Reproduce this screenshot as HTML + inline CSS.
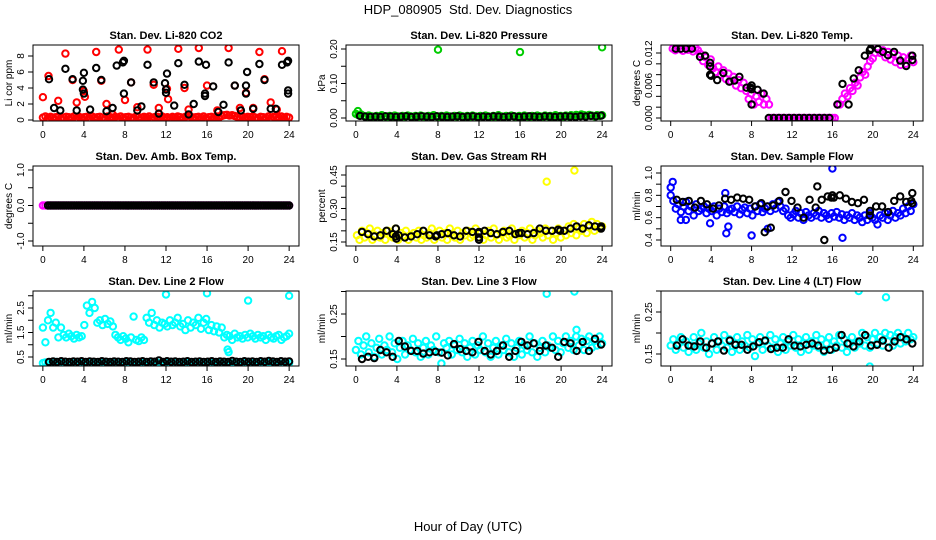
<!DOCTYPE html>
<html><head><meta charset="utf-8"><style>
html,body{margin:0;padding:0;background:#fff;}
svg{display:block;font-family:"Liberation Sans",sans-serif;}
</style></head><body>
<svg id="chart" width="936" height="540" viewBox="0 0 936 540" xmlns="http://www.w3.org/2000/svg">
<text x="468" y="14" text-anchor="middle" font-size="13" xml:space="preserve">HDP_080905  Std. Dev. Diagnostics</text>
<text x="468" y="531" text-anchor="middle" font-size="13">Hour of Day (UTC)</text>
</svg>
<script>
// ---------- DATA ----------
const xTicks = [0,4,8,12,16,20,24];
// Panel 1: CO2 (Li cor ppm)
const co2RedDense = [0.3,0.45,0.25,0.4,0.3,0.35,0.45,0.25,0.3,0.4,0.35,0.3,0.45,0.25,0.4,0.3,0.35,0.4,0.25,0.45,0.3,0.35,0.4,0.3,
0.25,0.45,0.35,0.3,0.4,0.25,0.45,0.3,0.35,0.4,0.3,0.25,0.45,0.35,0.3,0.4,0.3,0.45,0.25,0.35,0.4,0.3,0.45,0.3,
0.35,0.25,0.4,0.3,0.45,0.35,0.3,0.4,0.25,0.45,0.3,0.35,0.4,0.3,0.45,0.25,0.35,0.4,0.3,0.45,0.35,0.5,0.6,0.65,
0.55,0.6,0.5,0.4,0.35,0.45,0.3,0.4,0.35,0.45,0.3,0.25,0.4,0.35,0.3,0.45,0.25,0.4,0.35,0.3,0.45,0.3,0.4,0.3];
const co2RedHours = [0,0.55,1.5,2.2,2.9,3.3,4.0,4.1,5.2,5.7,6.2,6.8,7.4,8.0,8.6,9.2,10.2,10.8,11.3,12.2,12.1,13.2,13.8,14.2,15.2,16.0,17.0,18.1,18.7,19.2,19.8,20.5,21.1,21.6,22.2,22.8,23.3];
const co2RedValues = [2.85,5.5,2.4,8.3,5.0,2.2,3.6,2.9,8.5,4.9,2.0,0.7,8.8,2.5,4.7,1.6,8.8,4.4,1.5,2.6,3.9,8.9,4.0,1.3,9.0,4.3,1.2,9.0,4.3,1.5,3.4,1.5,8.5,5.1,2.2,1.3,8.6];
const co2BlackHours = [0.6,1.1,1.7,2.2,2.9,3.3,3.9,3.9,4.0,4.0,4.6,5.2,5.7,6.2,6.8,7.2,7.8,7.9,7.9,8.6,9.2,9.6,10.2,10.8,11.3,11.9,12.0,12.0,12.1,12.8,13.2,13.8,14.2,14.7,15.2,15.8,15.8,15.9,16.6,17.1,17.6,18.1,18.7,19.3,19.8,19.8,19.9,20.5,21.1,21.6,22.2,22.7,23.3,23.8,23.9,23.9,23.9];
const co2BlackValues = [5.1,1.5,1.2,6.4,5.1,1.2,4.9,3.8,3.3,5.9,1.3,6.5,5.0,1.1,1.5,6.8,7.2,7.4,3.3,4.7,1.2,1.7,6.9,4.7,0.8,4.6,3.8,3.4,5.8,1.8,7.1,4.4,0.7,2.0,7.3,3.3,3.0,6.9,4.2,1.0,1.9,7.2,4.3,1.2,4.3,3.3,6.0,1.4,7.0,5.0,1.4,1.4,6.9,7.2,7.4,3.7,3.3];
// Panel 2: pressure (kPa)
const pressGreenDense = [0.012,0.008,0.01,0.006,0.004,0.007,0.005,0.003,0.006,0.004,0.008,0.005,0.003,0.006,0.004,0.007,0.005,0.003,0.006,0.004,0.007,0.005,0.003,0.006,
0.004,0.007,0.005,0.003,0.006,0.004,0.008,0.005,0.003,0.006,0.004,0.007,0.005,0.003,0.006,0.004,0.007,0.005,0.003,0.006,0.004,0.007,0.005,0.003,
0.006,0.004,0.007,0.005,0.003,0.006,0.004,0.008,0.005,0.003,0.006,0.004,0.007,0.005,0.003,0.006,0.004,0.007,0.005,0.003,0.006,0.004,0.007,0.005,
0.004,0.007,0.005,0.006,0.004,0.008,0.005,0.006,0.004,0.007,0.005,0.008,0.006,0.009,0.007,0.01,0.008,0.006,0.009,0.007,0.005,0.008,0.006,0.008];
const pressGreenOutHours = [0.2,8.0,16.0,24.0];
const pressGreenOutValues = [0.02,0.198,0.191,0.205];
const pressBlack = [0.006,0.004,0.003,0.004,0.003,0.005,0.004,0.003,0.004,0.005,0.003,0.004,0.005,0.004,0.003,0.005,0.004,0.003,0.004,0.005,0.003,0.004,0.005,0.003,0.004,0.003,0.005,0.004,0.003,0.004,0.005,0.003,0.004,0.005,0.004,0.003,0.005,0.004,0.003,0.004,0.005,0.004,0.003,0.005,0.004,0.006,0.005,0.007];
// Panel 3: Li-820 temp
const tempMagentaDense = [0.0128,0.0125,0.013,0.0127,0.0124,0.013,0.0126,0.0128,0.0123,0.0129,0.0125,
0.0118,0.0105,0.0112,0.0098,0.0108,0.0092,0.0085,0.0095,0.008,0.0088,0.0072,0.0082,0.0068,0.0076,0.006,0.007,0.0055,0.0065,
0.005,0.0035,0.0045,0.0025,0.004,0.003,0.0045,0.0025,0.0035,0.0025,
0,0,0,0,0,0,0,0,0,0,0,0,0,0,0,0,0,0,0,0,0,0,0,0,0,0,
0.0025,0.0025,0.0035,0.0045,
0.004,0.0055,0.005,0.0065,0.006,0.0075,0.0085,0.008,0.0095,0.0105,0.011,0.012,
0.0128,0.012,0.0125,0.0112,0.0122,0.0108,0.0118,0.0103,0.0115,0.0098,0.0112,0.01,0.0108,0.0115,0.0103];
const tempBlackHours = [0.5,1,1.5,2.1,2.9,3.4,3.9,3.9,3.9,4.0,4.6,5.2,5.8,6.3,6.8,7.5,7.9,8.0,8.0,8.0,8.6,9.2,9.7,10.2,10.7,11.2,11.7,12.2,12.7,13.2,13.7,14.2,14.7,15.2,15.7,16.5,17,17.6,18.1,18.6,19.2,19.7,19.8,20.5,21,21.5,22.1,22.7,23.3,23.9,23.9];
const tempBlackValues = [0.0128,0.0128,0.0128,0.0128,0.0113,0.0115,0.0102,0.0095,0.008,0.0078,0.007,0.0083,0.0067,0.0069,0.0076,0.0056,0.0056,0.0053,0.006,0.0025,0.0052,0.0045,0,0,0,0,0,0,0,0,0,0,0,0,0,0.0025,0.0063,0.0025,0.0073,0.0088,0.0115,0.0125,0.0128,0.0127,0.0122,0.0116,0.0122,0.0106,0.0096,0.0115,0.0107];
// Panel 4: amb box temp
const boxMagentaDense = new Array(96).fill(0);
const boxBlack = new Array(120).fill(0);
// Panel 5: RH
const rhYellowDense = [0.18,0.16,0.2,0.17,0.19,0.21,0.16,0.18,0.2,0.17,0.19,0.16,0.2,0.18,0.17,0.21,0.16,0.19,0.18,0.2,0.16,0.18,0.19,0.17,
0.2,0.16,0.18,0.17,0.19,0.21,0.16,0.18,0.2,0.17,0.19,0.16,0.21,0.18,0.17,0.2,0.16,0.19,0.18,0.2,0.17,0.18,0.21,0.17,
0.19,0.16,0.18,0.2,0.17,0.21,0.18,0.16,0.19,0.2,0.17,0.18,0.21,0.16,0.19,0.18,0.2,0.17,0.19,0.21,0.16,0.18,0.2,0.19,
0.17,0.21,0.18,0.2,0.16,0.19,0.21,0.17,0.2,0.18,0.22,0.19,0.23,0.18,0.21,0.2,0.23,0.19,0.22,0.24,0.2,0.23,0.21,0.22];
const rhYellowOutHours = [18.6,21.3];
const rhYellowOutValues = [0.42,0.47];
const rhBlack = [0.195,0.185,0.175,0.18,0.2,0.185,0.18,0.17,0.175,0.185,0.2,0.18,0.175,0.185,0.19,0.18,0.175,0.2,0.195,0.19,0.2,0.19,0.185,0.195,0.2,0.185,0.19,0.185,0.19,0.21,0.2,0.2,0.205,0.2,0.21,0.22,0.21,0.225,0.22,0.215];
const rhBlackExtraHours = [3.9,3.9,3.95,7.9,12,12,12,15.9,19.9,23.9,23.9];
const rhBlackExtraValues = [0.21,0.175,0.165,0.18,0.17,0.16,0.195,0.19,0.2,0.22,0.21];
// Panel 6: sample flow
const sampleBlueDense = [0.8,0.75,0.68,0.72,0.65,0.7,0.74,0.66,0.7,0.62,0.72,0.66,0.68,0.7,0.64,0.68,0.66,0.7,0.62,0.68,0.65,0.7,0.64,0.67,
0.68,0.65,0.7,0.63,0.67,0.69,0.64,0.68,0.62,0.7,0.66,0.72,0.65,0.68,0.7,0.66,0.72,0.68,0.74,0.7,0.66,0.68,0.62,0.6,
0.63,0.66,0.6,0.64,0.58,0.65,0.62,0.6,0.64,0.62,0.66,0.6,0.64,0.62,0.59,0.64,0.61,0.65,0.6,0.63,0.58,0.62,0.6,0.64,
0.58,0.62,0.6,0.56,0.62,0.58,0.64,0.6,0.58,0.54,0.62,0.6,0.64,0.58,0.62,0.66,0.6,0.64,0.62,0.68,0.64,0.7,0.66,0.72];
const sampleBlueOutHours = [0,0.2,5.5,5.7,8.0,9.6,16,17,3.9,1,1.5,5.4];
const sampleBlueOutValues = [0.87,0.92,0.46,0.52,0.44,0.5,1.04,0.42,0.55,0.58,0.58,0.82];
const sampleBlack = [0.76,0.74,0.75,0.69,0.75,0.72,0.68,0.71,0.77,0.76,0.78,0.77,0.76,0.7,0.73,0.7,0.71,0.75,0.83,0.75,0.69,0.6,0.76,0.69,0.76,0.79,0.78,0.8,0.77,0.74,0.73,0.76,0.66,0.7,0.7,0.65,0.75,0.79,0.74,0.73];
const sampleBlackExtraHours = [9.3,9.9,14.5,15.2,19.7,23.9,23.8,15.9,16];
const sampleBlackExtraValues = [0.47,0.51,0.88,0.4,0.62,0.82,0.75,0.78,0.8];
// Panel 7: line 2 flow
const line2CyanDense = [1.7,1.1,2.0,2.3,1.7,1.9,
1.3,1.7,1.4,1.3,1.45,1.35,1.25,1.4,1.3,1.35,
1.8,2.6,2.3,2.75,
2.5,1.9,2.0,1.8,2.05,1.85,1.95,1.75,
1.4,1.3,1.2,1.35,1.25,1.1,1.3,2.15,1.2,1.15,1.3,1.2,
2.1,1.9,2.3,1.8,2.0,1.7,1.9,1.85,1.75,2.0,1.8,1.9,2.1,1.75,1.85,1.6,2.0,1.7,1.9,1.8,2.1,1.65,1.9,2.05,
1.6,1.8,1.55,1.75,1.5,1.7,
1.3,1.4,1.35,1.2,1.45,1.3,1.35,1.25,1.4,1.3,1.45,1.35,1.25,1.4,1.3,1.35,1.2,1.4,1.3,1.25,1.35,1.4,1.2,1.3,1.35,1.45];
const line2CyanLow = [0.25,0.28,0.24,0.27,0.25,0.3,0.24,0.26,0.28,0.25,0.27,0.24,0.26,0.29,0.25,0.27,0.24,0.26,0.28,0.25,0.27,0.24,0.26,0.25,
0.28,0.24,0.26,0.27,0.25,0.29,0.24,0.26,0.28,0.25,0.27,0.24,0.26,0.28,0.25,0.27,0.24,0.26,0.28,0.25,0.27,0.24,0.26,0.25,
0.27,0.24,0.26,0.28,0.25,0.27,0.24,0.26,0.28,0.25,0.2,0.24,0.26,0.28,0.25,0.27,0.24,0.26,0.28,0.25,0.27,0.24,0.26,0.25,
0.28,0.24,0.26,0.27,0.25,0.29,0.24,0.26,0.28,0.25,0.27,0.24,0.26,0.28,0.25,0.27,0.24,0.26,0.28,0.25,0.18,0.24,0.26,0.25];
const line2CyanOutHours = [12,16,20,24,18,18.1];
const line2CyanOutValues = [3.05,3.1,2.8,3.0,0.8,0.7];
const line2Black = [0.3,0.32,0.3,0.33,0.31,0.3,0.32,0.31,0.33,0.3,0.32,0.31,0.3,0.33,0.31,0.3,0.32,0.31,0.3,0.33,0.32,0.3,0.31,0.33,0.3,0.32,0.31,0.36,0.3,0.33,0.31,0.32,0.3,0.31,0.33,0.3,0.31,0.32,0.3,0.31,0.33,0.3,0.32,0.31,0.3,0.34,0.31,0.3,0.33,0.31,0.32,0.3,0.33,0.31,0.34,0.32,0.3,0.33,0.31,0.32];
// Panel 8: line 3 flow
const line3CyanDense = [0.17,0.19,0.16,0.18,0.2,0.165,0.185,0.155,0.175,0.195,0.16,0.18,0.17,0.2,0.165,0.185,0.15,0.175,0.19,0.16,0.18,0.17,0.195,0.165,
0.185,0.155,0.175,0.19,0.16,0.18,0.17,0.2,0.165,0.14,0.185,0.175,0.19,0.16,0.18,0.17,0.195,0.165,0.185,0.155,0.175,0.19,0.16,0.18,
0.17,0.2,0.165,0.185,0.155,0.175,0.19,0.16,0.18,0.17,0.195,0.165,0.185,0.155,0.175,0.19,0.16,0.18,0.17,0.2,0.165,0.185,0.155,0.175,
0.19,0.165,0.18,0.175,0.2,0.17,0.19,0.165,0.185,0.2,0.175,0.19,0.17,0.2,0.18,0.195,0.17,0.19,0.2,0.175,0.19,0.18,0.2,0.185];
const line3CyanOutHours = [18.6,21.3,21.5];
const line3CyanOutValues = [0.295,0.30,0.215];
const line3Black = [0.15,0.155,0.152,0.17,0.165,0.155,0.19,0.178,0.168,0.168,0.162,0.165,0.166,0.164,0.158,0.183,0.172,0.168,0.165,0.188,0.168,0.16,0.168,0.18,0.155,0.168,0.188,0.18,0.185,0.168,0.18,0.175,0.155,0.188,0.185,0.168,0.188,0.168,0.195,0.182];
// Panel 9: line 4 flow
const line4CyanDense = [0.17,0.185,0.16,0.175,0.19,0.165,0.18,0.155,0.17,0.19,0.16,0.175,0.2,0.165,0.18,0.15,0.175,0.19,0.16,0.18,0.17,0.195,0.165,0.185,
0.155,0.175,0.19,0.16,0.18,0.17,0.195,0.165,0.185,0.145,0.175,0.19,0.16,0.18,0.17,0.195,0.165,0.185,0.155,0.175,0.19,0.16,0.18,0.17,
0.195,0.165,0.185,0.155,0.175,0.19,0.16,0.18,0.17,0.195,0.165,0.185,0.155,0.175,0.19,0.16,0.18,0.17,0.195,0.165,0.185,0.155,0.175,0.19,
0.165,0.18,0.175,0.2,0.17,0.19,0.165,0.185,0.2,0.175,0.19,0.17,0.2,0.18,0.195,0.17,0.19,0.2,0.175,0.19,0.18,0.2,0.185,0.19];
const line4CyanOutHours = [18.6,21.3,19.7];
const line4CyanOutValues = [0.30,0.285,0.12];
const line4Black = [0.17,0.185,0.17,0.168,0.18,0.165,0.175,0.18,0.158,0.182,0.172,0.172,0.16,0.168,0.178,0.182,0.162,0.165,0.165,0.185,0.17,0.168,0.172,0.175,0.17,0.158,0.16,0.165,0.195,0.175,0.168,0.18,0.195,0.17,0.172,0.182,0.165,0.18,0.19,0.185,0.175];

// ---------- LAYOUT ----------
const svg = document.getElementById('chart');
const NS = 'http://www.w3.org/2000/svg';
const cols = [[33,299],[346,612],[661,923]];
const rows = [[45,121],[166,246],[291,366]];
function mk(tag, attrs, parent){
  const e = document.createElementNS(NS, tag);
  for (const k in attrs) e.setAttribute(k, attrs[k]);
  (parent||svg).appendChild(e); return e;
}
const panels = [
 {key:'co2',title:'Stan. Dev. Li-820 CO2',ylab:'Li cor ppm',c:0,r:0,yRef:[0,120,8,56],ticks:[0,2,4,6,8],labels:['0','2','4','6','8']},
 {key:'pressure',title:'Stan. Dev. Li-820 Pressure',ylab:'kPa',c:1,r:0,yRef:[0,118,0.2,49],ticks:[0,0.05,0.1,0.15,0.2],labels:['0.00','','0.10','','0.20']},
 {key:'li820-temp',title:'Stan. Dev. Li-820 Temp.',ylab:'degrees C',c:2,r:0,yRef:[0,118,0.012,53],ticks:[0,0.002,0.004,0.006,0.008,0.01,0.012],labels:['0.000','','','0.006','','','0.012']},
 {key:'amb-box-temp',title:'Stan. Dev. Amb. Box Temp.',ylab:'degrees C',c:0,r:1,yRef:[-1,241,1,170],ticks:[-1,-0.5,0,0.5,1],labels:['-1.0','','0.0','','1.0']},
 {key:'gas-rh',title:'Stan. Dev. Gas Stream RH',ylab:'percent',c:1,r:1,yRef:[0.15,242,0.45,175],ticks:[0.15,0.2,0.25,0.3,0.35,0.4,0.45],labels:['0.15','','','0.30','','','0.45']},
 {key:'sample-flow',title:'Stan. Dev. Sample Flow',ylab:'ml/min',c:2,r:1,yRef:[0.4,240,1.0,173],ticks:[0.4,0.5,0.6,0.7,0.8,0.9,1.0],labels:['0.4','','0.6','','0.8','','1.0']},
 {key:'line2-flow',title:'Stan. Dev. Line 2 Flow',ylab:'ml/min',c:0,r:2,yRef:[0.5,357,2.5,308],ticks:[0.5,1,1.5,2,2.5,3],labels:['0.5','','1.5','','2.5','']},
 {key:'line3-flow',title:'Stan. Dev. Line 3 Flow',ylab:'ml/min',c:1,r:2,yRef:[0.15,359,0.25,314],ticks:[0.15,0.2,0.25,0.3],labels:['0.15','','0.25','']},
 {key:'line4-flow',title:'Stan. Dev. Line 4 (LT) Flow',ylab:'ml/min',c:2,r:2,yRef:[0.15,354,0.25,312],ticks:[0.15,0.2,0.25,0.3],labels:['0.15','','0.25','']}
];
function evenly(vals,h0,h1){const n=vals.length;return vals.map((v,i)=>[h0+(h1-h0)*(n>1?i/(n-1):0),v]);}
function pairs(hs,vs){return hs.map((h,i)=>[h,vs[i]]);}
const series = {
 'co2':[[evenly(co2RedDense,0,24),'#ff0000'],[pairs(co2RedHours,co2RedValues),'#ff0000'],[pairs(co2BlackHours,co2BlackValues),'#000']],
 'pressure':[[evenly(pressGreenDense,0,24),'#00cc00'],[pairs(pressGreenOutHours,pressGreenOutValues),'#00cc00'],[evenly(pressBlack,0.4,23.9),'#000']],
 'li820-temp':[[evenly(tempMagentaDense,0.2,24),'#ff00ff'],[pairs(tempBlackHours,tempBlackValues),'#000']],
 'amb-box-temp':[[evenly(boxMagentaDense,0,24),'#ff00ff'],[evenly(boxBlack,0.5,24),'#000']],
 'gas-rh':[[evenly(rhYellowDense,0.1,24),'#ffff00'],[pairs(rhYellowOutHours,rhYellowOutValues),'#ffff00'],[evenly(rhBlack,0.6,23.9),'#000'],[pairs(rhBlackExtraHours,rhBlackExtraValues),'#000']],
 'sample-flow':[[evenly(sampleBlueDense,0,24),'#0000ff'],[pairs(sampleBlueOutHours,sampleBlueOutValues),'#0000ff'],[evenly(sampleBlack,0.6,23.9),'#000'],[pairs(sampleBlackExtraHours,sampleBlackExtraValues),'#000']],
 'line2-flow':[[evenly(line2CyanDense,0,24),'#00ffff'],[evenly(line2CyanLow,0,24),'#00ffff'],[pairs(line2CyanOutHours,line2CyanOutValues),'#00ffff'],[evenly(line2Black,0.6,24),'#000']],
 'line3-flow':[[evenly(line3CyanDense,0,24),'#00ffff'],[pairs(line3CyanOutHours,line3CyanOutValues),'#00ffff'],[evenly(line3Black,0.6,23.9),'#000']],
 'line4-flow':[[evenly(line4CyanDense,0,24),'#00ffff'],[pairs(line4CyanOutHours,line4CyanOutValues),'#00ffff'],[evenly(line4Black,0.6,23.9),'#000']]
};
panels.forEach(p=>{
  const [L,R]=cols[p.c], [T,B]=rows[p.r];
  const xs = h => L + (h+0.96)/25.92*(R-L);
  const [v1,p1,v2,p2]=p.yRef;
  const ys = v => p1 + (v-v1)*(p2-p1)/(v2-v1);
  const g = mk('g',{});
  
  
  const cp = mk('clipPath',{id:'cp-'+p.key},g);
  mk('rect',{x:L,y:T,width:R-L,height:B-T},cp);
  const pts = mk('g',{'clip-path':'url(#cp-'+p.key+')'},g);
  
  
  series[p.key].forEach(([arr,col])=>{
    arr.forEach(([h,v])=>{
      const c = mk('circle',{cx:xs(h).toFixed(1),cy:ys(v).toFixed(1),r:3.2,fill:'none',stroke:col,'stroke-width':2},pts);
      
      
    });
  });
  const box = mk('rect',{x:L,y:T,width:R-L,height:B-T,fill:'none',stroke:'#000','stroke-width':1},g);
  
  
  const t = mk('text',{x:(L+R)/2,y:T-6,'text-anchor':'middle','font-size':11,'font-weight':'bold'},g);
  t.textContent = p.title;
  
  
  mk('line',{x1:xs(xTicks[0]),x2:xs(xTicks[xTicks.length-1]),y1:B,y2:B,stroke:'#000'},g);
  xTicks.forEach(h=>{
    mk('line',{x1:xs(h),x2:xs(h),y1:B,y2:B+5,stroke:'#000'},g);
    const tl = mk('text',{x:xs(h),y:B+17,'text-anchor':'middle','font-size':10},g);
    tl.textContent = String(h);
    
    
  });
  mk('line',{x1:L,x2:L,y1:ys(p.ticks[0]),y2:ys(p.ticks[p.ticks.length-1]),stroke:'#000'},g);
  p.ticks.forEach((v,i)=>{
    const y = ys(v);
    mk('line',{x1:L-5,x2:L,y1:y,y2:y,stroke:'#000'},g);
    if (p.labels[i]) {
      const yl = mk('text',{x:0,y:0,'text-anchor':'middle','font-size':10,transform:`translate(${L-9},${y}) rotate(-90)`},g);
      yl.textContent = p.labels[i];
      
      
    }
  });
  const ya = mk('text',{x:0,y:0,'text-anchor':'middle','font-size':10,transform:`translate(${L-21},${(T+B)/2}) rotate(-90)`},g);
  ya.textContent = p.ylab;
  
  
});
</script>
</body></html>
